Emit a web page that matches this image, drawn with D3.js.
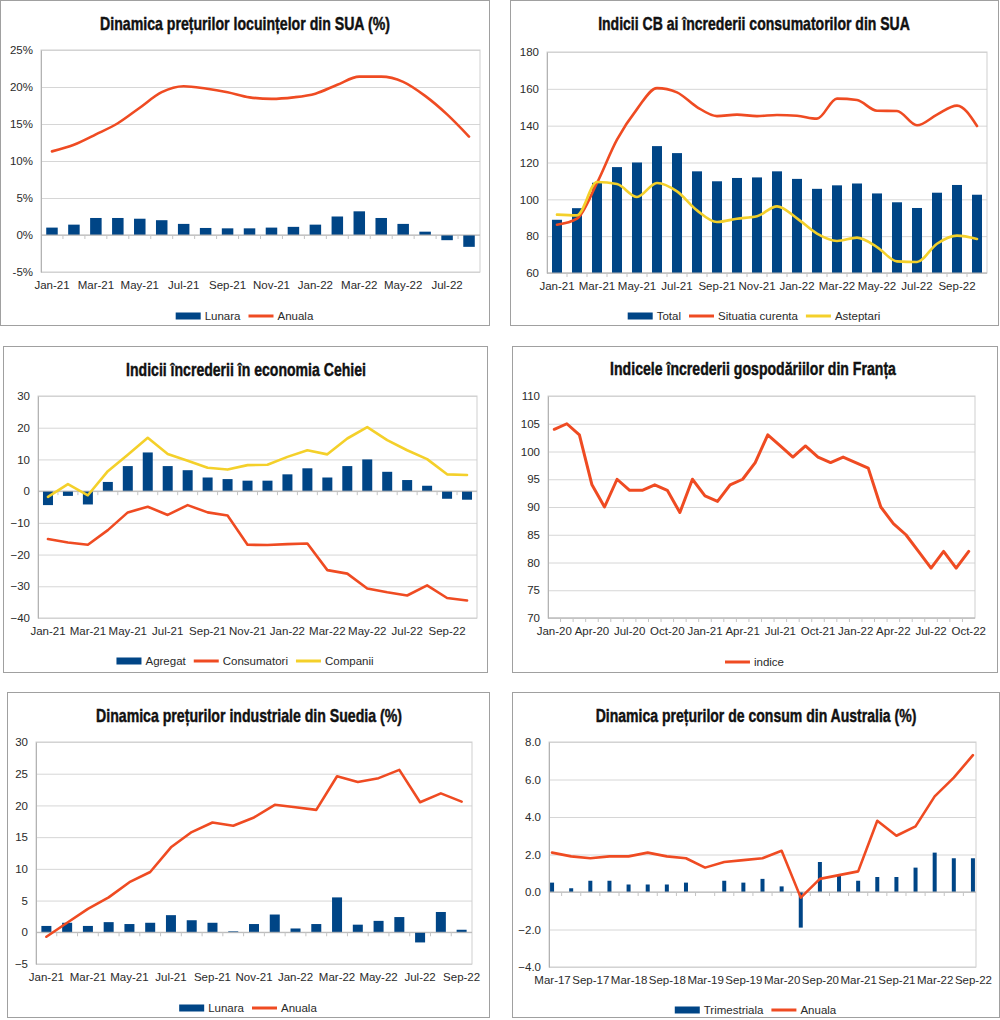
<!DOCTYPE html>
<html>
<head>
<meta charset="utf-8">
<script src="https://cdn.jsdelivr.net/npm/d3@7/dist/d3.min.js"></script>
<style>
  body { margin: 0; background: #fff; }
  text { font-family: "Liberation Sans", Arial, sans-serif; fill: #2a2a2a; }
  .title { font-family: "Liberation Sans Narrow", "Liberation Sans", sans-serif; font-weight: bold; font-size: 18.5px; fill: #111; stroke: #111; stroke-width: 0.45px; }
  .tick text { font-size: 11.5px; }
  .leg { font-size: 11.5px; }
</style>
</head>
<body>
<script>
// colours as in the LibreOffice originals
var BLUE = "#004586", RED = "#ef4b22", YELLOW = "#f4d02a";

// --- panel 1: US house prices
var usHouseMonths = ["Jan-21","Feb-21","Mar-21","Apr-21","May-21","Jun-21","Jul-21","Aug-21","Sep-21","Oct-21","Nov-21","Dec-21","Jan-22","Feb-22","Mar-22","Apr-22","May-22","Jun-22","Jul-22","Aug-22"];
var usHouseMonthly = [1.0,1.4,2.3,2.3,2.2,2.0,1.5,0.95,0.9,0.9,1.0,1.1,1.4,2.5,3.2,2.3,1.5,0.45,-0.7,-1.6];
var usHouseAnnual = [11.3,12.2,13.6,15.1,17.2,19.3,20.1,19.8,19.3,18.6,18.4,18.6,19.1,20.3,21.4,21.4,20.7,18.8,16.3,13.3];

// --- panel 2: US CB consumer confidence
var cbMonths = ["Jan-21","Feb-21","Mar-21","Apr-21","May-21","Jun-21","Jul-21","Aug-21","Sep-21","Oct-21","Nov-21","Dec-21","Jan-22","Feb-22","Mar-22","Apr-22","May-22","Jun-22","Jul-22","Aug-22","Sep-22","Oct-22"];
var cbTotal = [88.9,95.2,109.0,117.5,120.0,128.9,125.1,115.2,109.8,111.6,111.9,115.2,111.1,105.7,107.6,108.6,103.2,98.4,95.3,103.6,107.8,102.5];
var cbPresent = [86.2,89.5,108.9,132.4,149.0,160.4,158.1,150.1,145.2,146.0,145.2,145.8,145.4,143.8,154.7,153.9,148.1,148.0,140.2,146.0,150.9,139.8];
var cbExpect = [91.7,91.3,109.4,108.3,101.3,108.9,104.3,94.0,87.7,89.5,90.8,96.2,89.7,81.4,77.4,79.2,74.1,66.3,66.0,75.9,80.3,78.5];

// --- panel 3: Czech confidence
var czMonths = cbMonths.slice();
var czAggregate = [-4.4,-1.5,-4.2,2.9,7.9,12.2,7.9,6.6,4.3,3.8,3.3,3.3,5.3,7.2,4.3,7.9,10.0,6.1,3.5,1.7,-2.4,-2.7];
var czConsumers = [-15.1,-16.2,-16.9,-12.3,-6.7,-4.9,-7.5,-4.4,-6.7,-7.7,-16.9,-17.0,-16.7,-16.5,-24.9,-26.0,-30.7,-31.9,-32.9,-29.7,-33.7,-34.5];
var czCompanies = [-1.8,2.2,-1.3,6.3,11.5,16.8,11.7,9.6,7.4,6.8,8.2,8.3,10.8,12.9,11.6,16.6,20.2,16.1,12.9,10.1,5.3,5.1];

// --- panel 4: France household confidence
var frMonths = ["Jan-20","Feb-20","Mar-20","Apr-20","May-20","Jun-20","Jul-20","Aug-20","Sep-20","Oct-20","Nov-20","Dec-20","Jan-21","Feb-21","Mar-21","Apr-21","May-21","Jun-21","Jul-21","Aug-21","Sep-21","Oct-21","Nov-21","Dec-21","Jan-22","Feb-22","Mar-22","Apr-22","May-22","Jun-22","Jul-22","Aug-22","Sep-22","Oct-22"];
var frIndex = [104,105,103,94,90,95,93,93,94,93,89,95,92,91,94,95,98,103,101,99,101,99,98,99,98,97,90,87,85,82,79,82,79,82];

// --- panel 5: Sweden producer prices
var seMonths = cbMonths.slice(0, 21);
var seMonthly = [1.0,1.5,1.0,1.6,1.3,1.5,2.7,1.9,1.5,0.15,1.3,2.8,0.6,1.3,5.5,1.2,1.8,2.4,-1.6,3.2,0.4];
var seAnnual = [-0.7,1.5,3.7,5.5,7.9,9.5,13.4,15.8,17.3,16.8,18.1,20.1,19.7,19.3,24.6,23.7,24.3,25.6,20.5,21.9,20.6];

// --- panel 6: Australia CPI (quarterly)
var auQuarters = ["Mar-17","Jun-17","Sep-17","Dec-17","Mar-18","Jun-18","Sep-18","Dec-18","Mar-19","Jun-19","Sep-19","Dec-19","Mar-20","Jun-20","Sep-20","Dec-20","Mar-21","Jun-21","Sep-21","Dec-21","Mar-22","Jun-22","Sep-22"];
var auQuarterly = [0.5,0.2,0.6,0.6,0.4,0.4,0.4,0.5,0.0,0.6,0.5,0.7,0.3,-1.9,1.6,0.9,0.6,0.8,0.8,1.3,2.1,1.8,1.8];
var auAnnual = [2.1,1.9,1.8,1.9,1.9,2.1,1.9,1.8,1.3,1.6,1.7,1.8,2.2,-0.3,0.7,0.9,1.1,3.8,3.0,3.5,5.1,6.1,7.3];

var svg = d3.select("body").append("svg").attr("width", 1000).attr("height", 1020);

function drawPanel(p) {
  var g = svg.append("g");
  var px0 = p.plot[0], py0 = p.plot[1], px1 = p.plot[2], py1 = p.plot[3];

  g.append("rect")
    .attr("x", p.box[0] + 0.5).attr("y", p.box[1] + 0.5)
    .attr("width", p.box[2] - p.box[0]).attr("height", p.box[3] - p.box[1])
    .attr("fill", "#fff").attr("stroke", "#a0a0a0");

  // title: condensed bold, squeezed to the width seen in the original
  var title = g.append("text").attr("class", "title")
    .attr("x", 0).attr("y", 0)
    .attr("text-anchor", "middle")
    .text(p.title);
  var natural = title.node().getComputedTextLength();
  title.attr("transform", "translate(" + p.titleX + "," + p.titleY + ") scale(" + (p.titleW / natural) + ",1)");

  var y = d3.scaleLinear().domain(p.yDomain).range([py1, py0]);
  var ticks = d3.range(p.yDomain[0], p.yDomain[1] + p.yStep / 2, p.yStep);
  var base = p.yDomain[0] > 0 ? p.yDomain[0] : 0;

  var x, cx, step;
  if (p.point) {
    x = d3.scalePoint().domain(p.cats).range([px0, px1]).padding(p.padding);
    cx = function(d) { return x(d); };
    step = x.step();
  } else {
    x = d3.scaleBand().domain(p.cats).range([px0, px1]);
    cx = function(d) { return x(d) + x.bandwidth() / 2; };
    step = x.step();
  }

  // grid lines
  g.append("g")
    .attr("transform", "translate(" + px0 + ",0)")
    .call(d3.axisLeft(y).tickValues(ticks).tickSize(-(px1 - px0)).tickFormat(""))
    .call(function(s) {
      s.select(".domain").remove();
      s.selectAll("line").attr("stroke", "#d6d6d6");
    });

  // plot frame
  g.append("rect").attr("x", px0).attr("y", py0)
    .attr("width", px1 - px0).attr("height", py1 - py0)
    .attr("fill", "none").attr("stroke", "#cfcfcf");

  // y axis labels
  g.append("g")
    .attr("transform", "translate(" + px0 + ",0)")
    .call(d3.axisLeft(y).tickValues(ticks).tickSize(0).tickPadding(8).tickFormat(p.yFormat))
    .call(function(s) {
      s.select(".domain").attr("stroke", "#b3b3b3");
    });

  // bars
  if (p.bars) {
    var bw = p.barW;
    g.append("g").selectAll("rect")
      .data(p.bars)
      .join("rect")
      .attr("x", function(d, i) { return cx(p.cats[i]) - bw / 2; })
      .attr("y", function(d) { return y(Math.max(base, d)); })
      .attr("width", bw)
      .attr("height", function(d) { return Math.abs(y(d) - y(base)); })
      .attr("fill", BLUE);
  }

  // category axis line with tick marks between categories
  var axisY = (p.yDomain[0] < 0) ? y(0) : py1;
  g.append("line").attr("x1", px0).attr("x2", px1).attr("y1", axisY).attr("y2", axisY)
    .attr("stroke", "#b3b3b3");
  var bounds = p.cats.slice(1).map(function(c) { return cx(c) - step / 2; });
  g.append("g").selectAll("line")
    .data(bounds)
    .join("line")
    .attr("x1", function(d) { return d; }).attr("x2", function(d) { return d; })
    .attr("y1", axisY).attr("y2", axisY + 4)
    .attr("stroke", "#c4c4c4");

  // category labels
  var labelCats = p.cats.filter(function(c, i) { return i % p.labelEvery === 0; });
  g.append("g")
    .attr("transform", "translate(0," + py1 + ")")
    .call(d3.axisBottom(x).tickValues(labelCats).tickSize(0).tickPadding(9))
    .call(function(s) { s.select(".domain").remove(); });

  // lines
  p.lines.forEach(function(l) {
    var line = d3.line()
      .x(function(d, i) { return cx(p.cats[i]); })
      .y(function(d) { return y(d); })
      .curve(p.smooth ? d3.curveMonotoneX : d3.curveLinear);
    g.append("path").datum(l.values)
      .attr("d", line)
      .attr("fill", "none").attr("stroke", l.color)
      .attr("stroke-width", l.width || 2.6)
      .attr("stroke-linejoin", "round").attr("stroke-linecap", "round");
  });

  // legend
  var leg = g.append("g");
  var lx = 0;
  p.legend.forEach(function(item) {
    if (item.type === "bar") {
      leg.append("rect").attr("x", lx).attr("y", -3.5).attr("width", 25).attr("height", 7).attr("fill", item.color);
    } else {
      leg.append("line").attr("x1", lx).attr("x2", lx + 25).attr("y1", 0).attr("y2", 0)
        .attr("stroke", item.color).attr("stroke-width", 3);
    }
    var t = leg.append("text").attr("class", "leg").attr("x", lx + 29).attr("y", 4).text(item.label);
    lx += 29 + t.node().getComputedTextLength() + 8;
  });
  lx -= 8;
  var cxBox = (p.box[0] + p.box[2]) / 2;
  leg.attr("transform", "translate(" + (cxBox - lx / 2) + "," + p.legendY + ")");
}

drawPanel({
  box: [0, 0, 489, 325], plot: [41, 50, 480, 272],
  title: "Dinamica prețurilor locuințelor din SUA (%)", titleX: 245, titleY: 30, titleW: 290,
  cats: usHouseMonths, labelEvery: 2,
  yDomain: [-5, 25], yStep: 5, yFormat: function(d) { return d + "%"; },
  bars: usHouseMonthly, barW: 11.5, smooth: true,
  lines: [{ values: usHouseAnnual, color: RED }],
  legend: [{ type: "bar", color: BLUE, label: "Lunara" }, { type: "line", color: RED, label: "Anuala" }],
  legendY: 316
});

drawPanel({
  box: [510, 0, 998, 325], plot: [547, 52, 987, 273],
  title: "Indicii CB ai încrederii consumatorilor din SUA", titleX: 754, titleY: 30, titleW: 312,
  cats: cbMonths, labelEvery: 2,
  yDomain: [60, 180], yStep: 20, yFormat: d3.format("d"),
  bars: cbTotal, barW: 10, smooth: true,
  lines: [{ values: cbPresent, color: RED }, { values: cbExpect, color: YELLOW }],
  legend: [{ type: "bar", color: BLUE, label: "Total" }, { type: "line", color: RED, label: "Situatia curenta" }, { type: "line", color: YELLOW, label: "Asteptari" }],
  legendY: 316
});

drawPanel({
  box: [3, 346, 487, 672], plot: [38, 396, 477, 618],
  title: "Indicii încrederii în economia Cehiei", titleX: 246, titleY: 376, titleW: 240,
  cats: czMonths, labelEvery: 2,
  yDomain: [-40, 30], yStep: 10, yFormat: d3.format("d"),
  bars: czAggregate, barW: 10, smooth: false,
  lines: [{ values: czConsumers, color: RED }, { values: czCompanies, color: YELLOW }],
  legend: [{ type: "bar", color: BLUE, label: "Agregat" }, { type: "line", color: RED, label: "Consumatori" }, { type: "line", color: YELLOW, label: "Companii" }],
  legendY: 661
});

drawPanel({
  box: [512, 346, 997, 672], plot: [548, 396, 975, 618],
  title: "Indicele încrederii gospodăriilor din Franța", titleX: 753, titleY: 375, titleW: 286,
  cats: frMonths, labelEvery: 3,
  yDomain: [70, 110], yStep: 5, yFormat: d3.format("d"),
  bars: null, smooth: false,
  lines: [{ values: frIndex, color: RED, width: 3 }],
  legend: [{ type: "line", color: RED, label: "indice" }],
  legendY: 662
});

drawPanel({
  box: [7, 692, 489, 1017], plot: [36, 742, 472, 964],
  title: "Dinamica prețurilor industriale din Suedia (%)", titleX: 249, titleY: 722, titleW: 306,
  cats: seMonths, labelEvery: 2,
  yDomain: [-5, 30], yStep: 5, yFormat: d3.format("d"),
  bars: seMonthly, barW: 10, smooth: false,
  lines: [{ values: seAnnual, color: RED }],
  legend: [{ type: "bar", color: BLUE, label: "Lunara" }, { type: "line", color: RED, label: "Anuala" }],
  legendY: 1008
});

drawPanel({
  box: [512, 692, 999, 1017], plot: [549, 742, 976, 967],
  title: "Dinamica prețurilor de consum din Australia (%)", titleX: 756, titleY: 722, titleW: 321,
  cats: auQuarters, labelEvery: 2, point: true, padding: 0.16,
  yDomain: [-4, 8], yStep: 2, yFormat: d3.format(".1f"),
  bars: auQuarterly, barW: 4, smooth: false,
  lines: [{ values: auAnnual, color: RED }],
  legend: [{ type: "bar", color: BLUE, label: "Trimestriala" }, { type: "line", color: RED, label: "Anuala" }],
  legendY: 1010
});
</script>
</body>
</html>
